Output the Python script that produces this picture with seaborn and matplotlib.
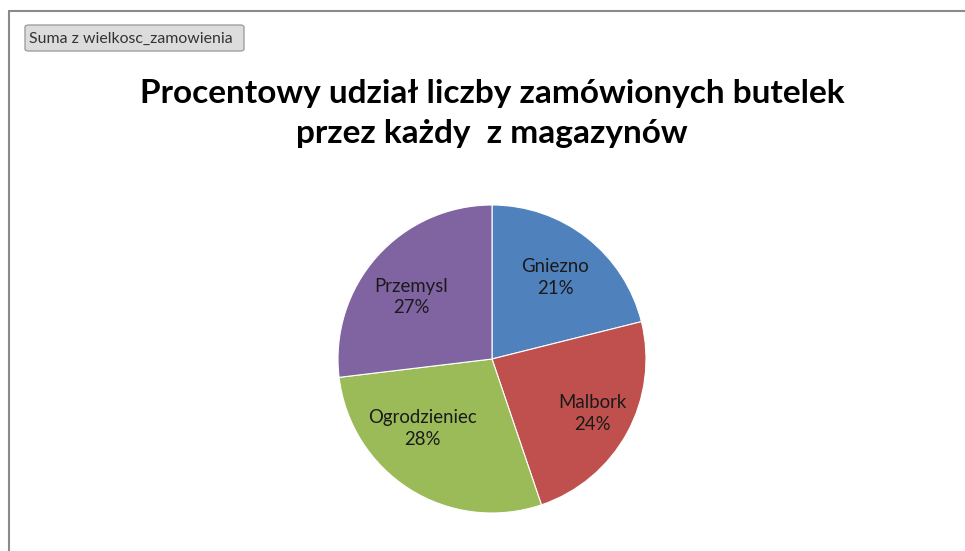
import matplotlib
matplotlib.use("Agg")
import numpy as np
import matplotlib.pyplot as plt
import seaborn as sns
from matplotlib.patches import FancyBboxPatch
from matplotlib.lines import Line2D

# data (share of ordered bottles per warehouse)
magazyny = ["Gniezno", "Malbork", "Ogrodzieniec", "Przemysl"]
udzial = [21.1, 23.7, 28.3, 26.9]
kolory = ["#4F81BD", "#C0504D", "#9BBB59", "#8064A2"]
tytul = "Procentowy udział liczby zamówionych butelek\nprzez każdy  z magazynów"
przycisk = "Suma z wielkosc_zamowienia"

# label placement tweaks (Excel "best fit"): radial distance and angle shift
label_dist = [0.67, 0.74, 0.64, 0.66]
label_shift = [0, 0, -13, 4]

sns.set_theme(style="white")
plt.rcParams['font.family'] = ['Lato', 'DejaVu Sans']

W, H = 965, 551
fig = plt.figure(figsize=(W / 100, H / 100), dpi=100)
fig.patch.set_facecolor("white")

# pie axes: center (492, 359) px, radius 154 px
cx, cy, r = 492, 359, 154
lim = 1.2
side = 2 * lim * r
ax = fig.add_axes([(cx - side / 2) / W, (H - cy - side / 2) / H, side / W, side / H])

names = iter(magazyny)
wedges, texts, autotexts = ax.pie(
    udzial,
    colors=sns.color_palette(kolory),
    startangle=90,
    counterclock=False,
    autopct=lambda p: f"{next(names)}\n{p:.0f}%",
    pctdistance=0.68,
    wedgeprops=dict(edgecolor="white", linewidth=0.8),
    textprops=dict(fontsize=13.4, color="#1a1a1a"),
)
for w, t, d, s in zip(wedges, autotexts, label_dist, label_shift):
    ang = np.deg2rad((w.theta1 + w.theta2) / 2 + s)
    t.set_position((d * np.cos(ang), d * np.sin(ang)))
    t.set_linespacing(1.35)
ax.set_xlim(-lim, lim)
ax.set_ylim(-lim, lim)
ax.set_aspect("equal")
ax.axis("off")

# title
fig.text(cx / W, 1 - 113.5 / H, tytul, ha="center", va="center",
         fontsize=24, fontweight="bold", color="black", linespacing=1.45)

# pivot field button
btn = FancyBboxPatch((25 / W, 1 - 51 / H), 219 / W, 26 / H,
                     boxstyle="round,pad=0,rounding_size=0.004",
                     transform=fig.transFigure, facecolor="#dcdcdc",
                     edgecolor="#a0a0a0", linewidth=1)
fig.add_artist(btn)
fig.text(29 / W, 1 - 38.5 / H, przycisk, ha="left", va="center",
         fontsize=11.4, color="#333333")

# chart area frame (left and top edges)
fig.add_artist(Line2D([8.5 / W, 8.5 / W], [0, 1 - 10.5 / H],
                      transform=fig.transFigure, color="#8a8a8a", linewidth=1.5))
fig.add_artist(Line2D([8.5 / W, 1], [1 - 10.5 / H, 1 - 10.5 / H],
                      transform=fig.transFigure, color="#8a8a8a", linewidth=1.5))

fig.savefig("out.png", dpi=100)
